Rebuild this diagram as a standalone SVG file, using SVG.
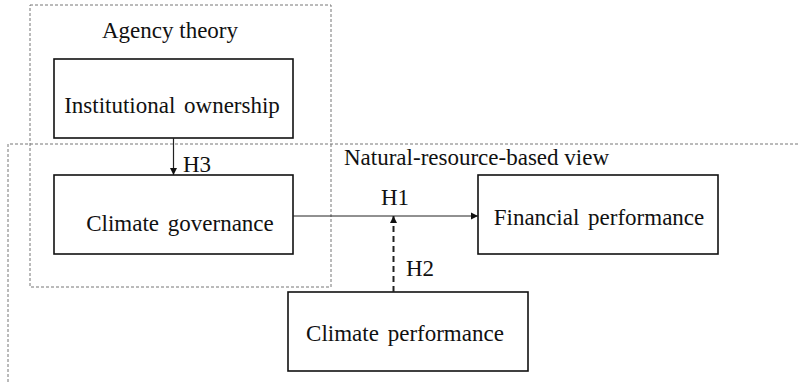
<svg xmlns="http://www.w3.org/2000/svg" width="798" height="383" viewBox="0 0 798 383">
<style>
.t{font-family:"Liberation Serif","Times New Roman",serif;font-size:23px;fill:#111;}
.box{fill:none;stroke:#111;stroke-width:1.6;}
.frame{fill:none;stroke:#777;stroke-width:1;stroke-dasharray:3 2;}
.c{stroke:#222;fill:none;}
</style>
<defs>
<marker id="ah" markerWidth="8" markerHeight="8" refX="7" refY="4" orient="auto" markerUnits="userSpaceOnUse">
<path d="M0,0.5 L7,4 L0,7.5 Z" fill="#111"/>
</marker>
</defs>
<rect width="798" height="383" fill="#fff"/>
<g id="frame-agency">
<rect class="frame" x="30" y="5" width="301" height="282"/>
<text class="t" x="170" y="38" text-anchor="middle">Agency theory</text>
</g>
<g id="frame-nrbv">
<path class="frame" d="M798,144 H8 V383"/>
<text class="t" x="344" y="165">Natural-resource-based view</text>
</g>
<g id="institutional-ownership">
<rect class="box" x="54" y="59" width="239" height="79"/>
<text class="t" x="172" y="113" text-anchor="middle" word-spacing="3">Institutional ownership</text>
</g>
<g id="climate-governance">
<rect class="box" x="54" y="175" width="239" height="79"/>
<text class="t" x="180" y="231" text-anchor="middle" word-spacing="3">Climate governance</text>
</g>
<g id="financial-performance">
<rect class="box" x="478" y="175" width="240" height="79"/>
<text class="t" x="599" y="225" text-anchor="middle" word-spacing="3">Financial performance</text>
</g>
<g id="climate-performance">
<rect class="box" x="288" y="292" width="240" height="79"/>
<text class="t" x="405" y="341" text-anchor="middle" word-spacing="3">Climate performance</text>
</g>
<g id="connectors">
<line class="c" x1="173.5" y1="138" x2="173.5" y2="175" stroke-width="1.2" marker-end="url(#ah)"/>
<text class="t" x="183" y="172">H3</text>
<line class="c" x1="293" y1="216" x2="478" y2="216" stroke-width="1" marker-end="url(#ah)"/>
<text class="t" x="381" y="205">H1</text>
<line class="c" x1="393.5" y1="292" x2="393.5" y2="216" stroke-width="2" stroke-dasharray="6 4" marker-end="url(#ah)"/>
<text class="t" x="406" y="276">H2</text>
</g>
</svg>
